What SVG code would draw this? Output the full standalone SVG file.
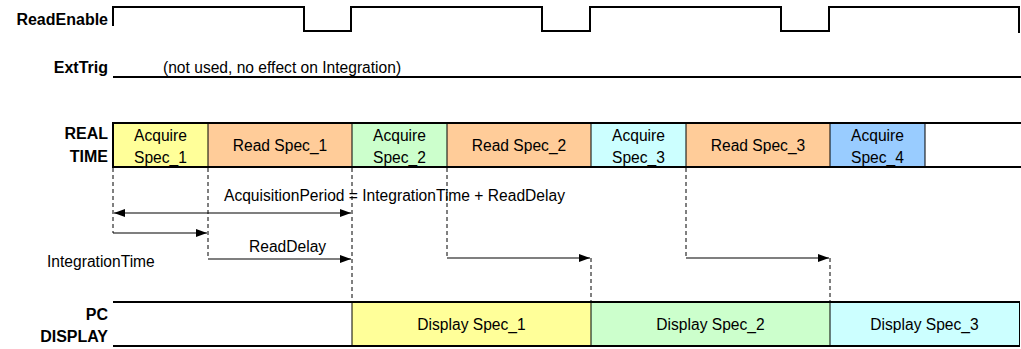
<svg xmlns="http://www.w3.org/2000/svg" width="1021" height="349" viewBox="0 0 1021 349">
<style>
text{font-family:"Liberation Sans",Arial,sans-serif;font-size:15.6px;fill:#000}
.lbl{font-weight:bold;text-anchor:end;font-size:16px}
.c{text-anchor:middle}
.sig{fill:none;stroke:#000;stroke-width:2}
.row{stroke:#000;stroke-width:2}
.div{stroke:#000;stroke-width:1}
.dash{fill:none;stroke:#000;stroke-width:1;stroke-dasharray:4 3}
.arr{fill:none;stroke:#000;stroke-width:1.2}
</style>
<defs>
<marker id="ah" viewBox="0 0 11 8" refX="11" refY="4" markerWidth="11" markerHeight="8" markerUnits="userSpaceOnUse" orient="auto-start-reverse">
<path d="M0,0 L11,4 L0,8 Z" fill="#000"/>
</marker>
</defs>
<g id="readenable">
<text class="lbl" x="108" y="25">ReadEnable</text>
<path class="sig" d="M113,26 V7 H304 V31 H351 V7 H542 V31 H590 V7 H781 V31 H829 V7 H1019 V33"/>
</g>
<g id="exttrig">
<text class="lbl" x="108" y="73">ExtTrig</text>
<text x="163" y="73">(not used, no effect on Integration)</text>
<line class="sig" x1="113" y1="77" x2="1021" y2="77"/>
</g>
<g id="realtime">
<text class="lbl" x="108" y="139">REAL</text>
<text class="lbl" x="108" y="162">TIME</text>
<rect x="113" y="123" width="95" height="44" fill="#FFFF99"/>
<rect x="208" y="123" width="144" height="44" fill="#FFCC99"/>
<rect x="352" y="123" width="95" height="44" fill="#CCFFCC"/>
<rect x="447" y="123" width="144" height="44" fill="#FFCC99"/>
<rect x="591" y="123" width="95" height="44" fill="#CCFFFF"/>
<rect x="686" y="123" width="144" height="44" fill="#FFCC99"/>
<rect x="830" y="123" width="95" height="44" fill="#99CCFF"/>
<line class="row" x1="113" y1="123" x2="1021" y2="123"/>
<line class="row" x1="113" y1="167" x2="1021" y2="167"/>
<line class="row" x1="113" y1="122" x2="113" y2="168"/>
<g class="div">
<line x1="208" y1="123" x2="208" y2="167"/>
<line x1="352" y1="123" x2="352" y2="167"/>
<line x1="447" y1="123" x2="447" y2="167"/>
<line x1="591" y1="123" x2="591" y2="167"/>
<line x1="686" y1="123" x2="686" y2="167"/>
<line x1="830" y1="123" x2="830" y2="167"/>
<line x1="925" y1="123" x2="925" y2="167"/>
</g>
<text class="c" x="160.5" y="141">Acquire</text>
<text class="c" x="160.5" y="163">Spec_1</text>
<text class="c" x="280" y="151">Read Spec_1</text>
<text class="c" x="399.5" y="141">Acquire</text>
<text class="c" x="399.5" y="163">Spec_2</text>
<text class="c" x="519" y="151">Read Spec_2</text>
<text class="c" x="638.5" y="141">Acquire</text>
<text class="c" x="638.5" y="163">Spec_3</text>
<text class="c" x="758" y="151">Read Spec_3</text>
<text class="c" x="877.5" y="141">Acquire</text>
<text class="c" x="877.5" y="163">Spec_4</text>
</g>
<g id="pcdisplay">
<text class="lbl" x="108" y="320">PC</text>
<text class="lbl" x="108" y="342">DISPLAY</text>
<rect x="352" y="302" width="239" height="44" fill="#FFFF99"/>
<rect x="591" y="302" width="239" height="44" fill="#CCFFCC"/>
<rect x="830" y="302" width="189" height="44" fill="#CCFFFF"/>
<line class="row" x1="113" y1="302" x2="1020" y2="302"/>
<line class="row" x1="113" y1="346" x2="1020" y2="346"/>
<g class="div">
<line x1="352" y1="302" x2="352" y2="346"/>
<line x1="591" y1="302" x2="591" y2="346"/>
<line x1="830" y1="302" x2="830" y2="346"/>
<line x1="1019.5" y1="302" x2="1019.5" y2="346"/>
</g>
<text class="c" x="471.5" y="330">Display Spec_1</text>
<text class="c" x="710.5" y="330">Display Spec_2</text>
<text class="c" x="924.5" y="330">Display Spec_3</text>
</g>
<g id="connectors">
<line class="dash" x1="113" y1="168" x2="113" y2="233"/>
<line class="dash" x1="208" y1="168" x2="208" y2="259"/>
<line class="dash" x1="352" y1="168" x2="352" y2="302"/>
<line class="dash" x1="447" y1="168" x2="447" y2="258"/>
<line class="dash" x1="591" y1="258" x2="591" y2="302"/>
<line class="dash" x1="686" y1="168" x2="686" y2="258"/>
<line class="dash" x1="830" y1="258" x2="830" y2="302"/>
<line class="arr" x1="114" y1="213" x2="351" y2="213" marker-start="url(#ah)" marker-end="url(#ah)"/>
<path class="arr" d="M113,233 H207" marker-end="url(#ah)"/>
<path class="arr" d="M208,259 H351" marker-end="url(#ah)"/>
<path class="arr" d="M447,258 H590" marker-end="url(#ah)"/>
<path class="arr" d="M686,258 H829" marker-end="url(#ah)"/>
</g>
<g id="annotations">
<text x="224" y="201">AcquisitionPeriod = IntegrationTime + ReadDelay</text>
<text x="249" y="252">ReadDelay</text>
<text x="47" y="267">IntegrationTime</text>
</g>
</svg>
